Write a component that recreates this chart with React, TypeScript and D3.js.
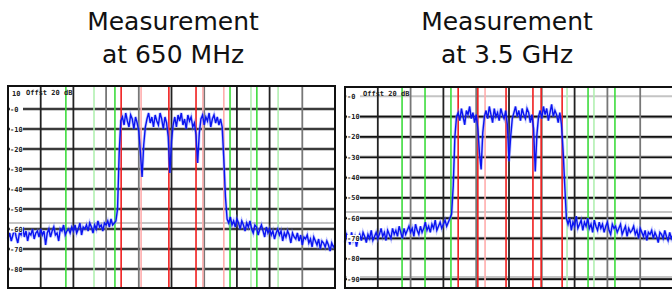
import React from "react";
import * as d3 from "d3";

// Titles
const titlesLeft = ["Measurement", "at 650 MHz"];
const titlesRight = ["Measurement", "at 3.5 GHz"];

// Y axis tick labels (dB)
const yTicksLeft = [0, -10, -20, -30, -40, -50, -60, -70, -80];
const yTicksRight = [0, -10, -20, -30, -40, -50, -60, -70, -80, -90];

// vertical grid divisions (0..10) and their tone
const gridDivs = [1, 2, 3, 4, 5, 6, 7, 8, 9];
const gridToneLeft = ["dark", "dark", "mid", "mid", "dark", "mid", "dark", "dark", "mid"];
const gridToneRight = ["dark", "mid", "dark", "mid", "dark", "mid", "dark", "mid", "mid"];

// frequency markers, position in divisions
const markersLeft: [number, string][] = [
  [1.77, "g"], [2.63, "lg"], [3.27, "g"], [3.46, "r"], [4.07, "lr"], [4.92, "r"],
  [5.75, "r"], [5.96, "lr"], [6.6, "lr"], [6.79, "g"], [7.43, "lg"], [7.61, "g"], [8.26, "lg"],
];
const markersRight: [number, string][] = [
  [1.74, "g"], [2.44, "g"], [3.23, "g"], [3.45, "r"], [4.05, "r"], [4.27, "lr"], [4.91, "r"],
  [5.73, "r"], [5.98, "r"], [6.62, "r"], [6.77, "lg"], [7.41, "g"], [7.59, "lg"], [8.23, "g"],
];

// reference (light grey) levels
const refLeft = [-57];
const refRight = [-57, -89, 0];

// trace values in dB, one every 0.05 division
const traceLeft = [
  -65, -62, -66, -63, -60, -64, -67, -62, -63, -59, -64, -61, -66, -62, -63, -60, -65, -62, -61, -64,
  -60, -63, -61, -68, -62, -60, -64, -61, -59, -63, -62, -66, -60, -61, -58, -63, -61, -60, -62, -59,
  -61, -58, -62, -60, -57, -63, -59, -60, -58, -61, -57, -59, -62, -58, -60, -56, -59, -58, -61, -57,
  -58, -56, -59, -55, -58, -57, -56,
  -50, -22, -6,
  -4, -8, -2, -6, -9, -3, -5, -10, -4, -7, -11,
  -22, -34, -18, -9,
  -5, -2, -7, -4, -9, -3, -6, -8, -2, -5, -10, -4, -7,
  -14, -32, -16, -8,
  -4, -9, -3, -6, -2, -8, -5, -10, -3, -6, -4, -9,
  -7, -13, -27, -12,
  -5, -3, -8, -4, -6, -2, -9, -5, -3, -7, -4, -8, -5, -9,
  -25, -44, -55,
  -57, -54, -58, -56, -59, -55, -57, -60, -56, -58,
  -61, -57, -59, -56, -60, -62, -58, -59, -63, -60,
  -58, -61, -64, -59, -62, -60, -63, -61, -65, -62,
  -60, -63, -61, -66, -62, -64, -61, -63, -67, -62,
  -64, -65, -62, -66, -63, -68, -64, -65, -63, -67,
  -65, -69, -64, -66, -68, -65, -70, -66, -67, -69,
  -66, -68, -71, -67, -69, -68,
];

const traceRight = [
  -72, -68, -70, -73, -67, -71, -69, -74, -70, -68,
  -71, -67, -69, -72, -68, -70, -66, -71, -69, -67,
  -70, -68, -65, -69, -67, -71, -66, -68, -70, -65,
  -68, -66, -69, -64, -67, -70, -65, -68, -66, -64,
  -67, -65, -69, -63, -66, -68, -64, -67, -65, -62,
  -66, -64, -67, -63, -65, -61, -66, -64, -62, -65,
  -63, -61, -64, -62, -60,
  -58, -44, -20, -10,
  -8, -12, -6, -10, -14, -7, -9, -5, -11, -8, -13, -9,
  -16, -28, -36, -18, -10,
  -7, -11, -5, -9, -13, -6, -10, -8, -12, -6, -9, -11, -7,
  -14, -32, -20, -11,
  -8, -5, -10, -7, -12, -6, -9, -11, -6, -8, -13, -9,
  -16, -37, -19, -10,
  -7, -11, -5, -9, -6, -12, -8, -4, -10, -7, -9, -13, -8,
  -14, -27, -44, -60,
  -63, -60, -66, -62, -64, -59, -65, -63, -61, -66,
  -62, -64, -60, -65, -63, -67, -61, -64, -66, -62,
  -65, -63, -67, -64, -62, -66, -68, -63, -65, -64,
  -67, -65, -63, -68, -66, -64, -69, -65, -67, -66,
  -64, -68, -66, -70, -65, -67, -69, -66, -71, -67,
  -68, -66, -70, -67, -69, -72, -67, -68, -70, -66,
  -69, -71, -67, -70, -68,
];

const STEP = 0.05;

const markerColor: Record<string, string> = {
  g: "#3ddc3d",
  lg: "#b2f0b2",
  r: "#f01e1e",
  lr: "#ffadad",
};

interface PanelProps {
  x0: number;
  x1: number;
  y0: number;
  y1: number;
  dbTop: number;
  dbBottom: number;
  refLevel: string;
  ticks: number[];
  tones: string[];
  markers: [number, string][];
  refs: number[];
  trace: number[];
  titles: string[];
  titleX: number;
  openRight?: boolean;
  greyZero?: boolean;
}

const Panel: React.FC<PanelProps> = (p) => {
  const x = d3.scaleLinear().domain([0, 10]).range([p.x0, p.x1]);
  const y = d3.scaleLinear().domain([p.dbTop, p.dbBottom]).range([p.y0, p.y1]);
  const line = d3
    .line<number>()
    .x((_, i) => x(i * STEP))
    .y((d) => y(d));
  const path = line(p.trace) || "";
  const gridTicks = p.greyZero ? p.ticks.filter((t) => t !== 0) : p.ticks;

  return (
    <g>
      <text x={p.titleX} y={30} textAnchor="middle" fontFamily="DejaVu Sans" fontSize={25} fill="#111">
        {p.titles[0]}
      </text>
      <text x={p.titleX} y={63} textAnchor="middle" fontFamily="DejaVu Sans" fontSize={25} fill="#111">
        {p.titles[1]}
      </text>

      <rect x={p.x0} y={p.y0} width={p.x1 - p.x0} height={p.y1 - p.y0} fill="#fff" />

      {/* horizontal grid */}
      {gridTicks.map((t) => (
        <g key={"h" + t}>
          <line x1={p.x0} x2={p.x1} y1={y(t)} y2={y(t)} stroke="#bbb" strokeWidth={3.5} />
          <line x1={p.x0} x2={p.x1} y1={y(t)} y2={y(t)} stroke="#111" strokeWidth={1.7} />
        </g>
      ))}
      {p.refs.map((r) => (
        <line key={"r" + r} x1={p.x0} x2={p.x1} y1={y(r)} y2={y(r)} stroke="#c4c4c4" strokeWidth={2} />
      ))}

      {/* vertical grid */}
      {gridDivs.map((d, i) => (
        <line
          key={"v" + d}
          x1={x(d)}
          x2={x(d)}
          y1={p.y0}
          y2={p.y1}
          stroke={p.tones[i] === "dark" ? "#222" : "#777"}
          strokeWidth={1.8}
        />
      ))}

      {/* markers */}
      {p.markers.map(([d, k]) => (
        <line key={"m" + d} x1={x(d)} x2={x(d)} y1={p.y0} y2={p.y1} stroke={markerColor[k]} strokeWidth={1.6} />
      ))}

      {/* trace */}
      <path d={path} fill="none" stroke="#6f7dff" strokeWidth={3} strokeOpacity={0.4} />
      <path d={path} fill="none" stroke="#0a14f0" strokeWidth={1.4} />

      {/* labels */}
      {p.ticks.map((t) => (
        <g key={"l" + t}>
          <rect x={p.x0 + 2} y={y(t) - 3.5} width={13} height={7} fill="#fff" />
          <text
            x={p.x0 + 2}
            y={y(t) + 2.5}
            fontFamily="DejaVu Sans Mono"
            fontSize={7}
            fontWeight="bold"
            fill="#222"
          >
            {t === 0 ? "-0" : String(t)}
          </text>
        </g>
      ))}
      <text x={p.x0 + 4} y={p.y0 + 10} fontFamily="DejaVu Sans Mono" fontSize={7} fontWeight="bold" fill="#222">
        {p.refLevel}
      </text>
      <text x={p.x0 + 18} y={p.y0 + 9} fontFamily="DejaVu Sans Mono" fontSize={7} fontWeight="bold" fill="#222">
        {"Offst   20 dB"}
      </text>

      {/* frame */}
      <path
        d={
          p.openRight
            ? `M${p.x1},${p.y0}H${p.x0}V${p.y1}H${p.x1}`
            : `M${p.x0},${p.y0}H${p.x1}V${p.y1}H${p.x0}Z`
        }
        fill="none"
        stroke="#111"
        strokeWidth={2}
      />
    </g>
  );
};

const App: React.FC = () => {
  return (
    <svg
      width={672}
      height={290}
      style={{ position: "absolute", left: 0, top: 0, background: "#fff" }}
    >
      <Panel
        x0={8}
        x1={335}
        y0={86}
        y1={288}
        dbTop={11.5}
        dbBottom={-89.5}
        refLevel="10"
        ticks={yTicksLeft}
        tones={gridToneLeft}
        markers={markersLeft}
        refs={refLeft}
        trace={traceLeft}
        titles={titlesLeft}
        titleX={173}
      />
      <Panel
        x0={345}
        x1={673}
        y0={87}
        y1={288}
        dbTop={4.6}
        dbBottom={-94.4}
        refLevel=""
        ticks={yTicksRight}
        tones={gridToneRight}
        markers={markersRight}
        refs={refRight}
        trace={traceRight}
        titles={titlesRight}
        titleX={507}
        openRight
        greyZero
      />
    </svg>
  );
};

export default App;
